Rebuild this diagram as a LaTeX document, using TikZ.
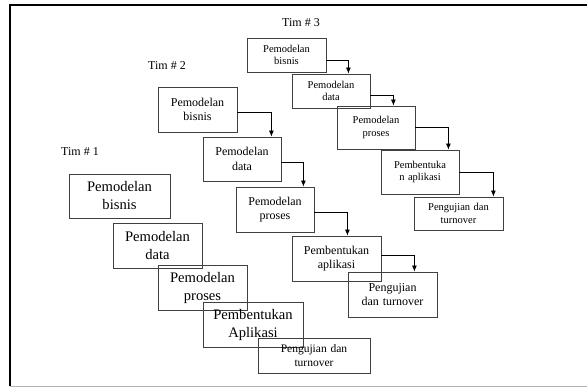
\documentclass[tikz,border=0pt]{standalone}
\usepackage{fontspec}
\setmainfont{Liberation Serif}
\usetikzlibrary{arrows,arrows.meta,shapes,calc,positioning}
\tikzstyle{phase} =[draw=black!75, line width=0.8pt, inner sep=1pt,
                    align=center, minimum width=78pt, minimum height=44pt]
\tikzstyle{flow}  =[-{Latex[length=6pt,width=5pt]}, line width=0.8pt]
\tikzstyle{team}  =[font=\fontsize{12}{14}\selectfont]

\begin{document}
\begin{tikzpicture}[x=1pt, y=-1pt]
\useasboundingbox (0,0) rectangle (587,387);
% frame
\draw [line width=2pt] (9.5,386) -- (9.5,5) -- (587,5);
\draw [black!30, line width=1.5pt] (9.5,386.5) -- (587,386.5);
% team labels
\node (tim3) [team] at (301,23) {Tim \# 3};
\node (tim2) [team] at (167,66) {Tim \# 2};
\node (tim1) [team] at (80,152) {Tim \# 1};
% Tim 3
\begin{scope}[every node/.style={phase, text width=70pt, font=\fontsize{10.5}{12.5}\selectfont}]
\node (t3a) [minimum width=79pt, minimum height=34pt] at (286.5,55) {Pemodelan\\bisnis};
\node (t3b) [minimum height=34pt] at (331,91) {Pemodelan\\data};
\node (t3c) [minimum height=43pt] at (376,127.5) {Pemodelan\\proses};
\node (t3d) at (420,172) {Pembentuka\\n aplikasi};
\node (t3e) [minimum width=89pt, minimum height=33pt] at (458.5,213.5) {Pengujian dan\\turnover};
\end{scope}
% Tim 2
\begin{scope}[every node/.style={phase, text width=72pt, minimum height=45pt, font=\fontsize{12}{14.5}\selectfont}]
\node (t2a) [minimum width=79pt] at (197.5,109.5) {Pemodelan\\bisnis};
\node (t2b) [minimum height=44pt] at (242,159) {Pemodelan\\data};
\node (t2c) at (275,209.5) {Pemodelan\\proses};
\node (t2d) [minimum width=89pt] at (336.5,258.5) {Pembentukan\\aplikasi};
\node (t2e) [minimum width=89pt] at (392.5,294.5) {Pengujian\\dan turnover};
\end{scope}
% Tim 1
\begin{scope}[every node/.style={phase, text width=82pt, minimum width=89pt, minimum height=45pt, font=\fontsize{14.6}{18}\selectfont}]
\node (t1a) [minimum width=101pt, minimum height=44pt] at (119.5,196) {Pemodelan\\bisnis};
\node (t1b) at (157.5,245.5) {Pemodelan\\data};
\node (t1c) at (202.5,287.5) {Pemodelan\\proses};
\node (t1d) [minimum width=100pt] at (253,324.5) {Pembentukan\\Aplikasi};
\node (t1e) [minimum width=112pt, minimum height=35pt, font=\fontsize{11.5}{14}\selectfont] at (314,355.5) {Pengujian dan\\turnover};
\end{scope}
% connectors
\draw [flow] ([yshift=-5pt]t3a.east) -| ([xshift=-22pt]t3b.north east);
\draw [flow] ([yshift=-4pt]t3b.east) -| ([xshift=-22pt]t3c.north east);
\draw [flow] (t3c.east) -| ([xshift=-11pt]t3d.north east);
\draw [flow] (t3d.east) -| ([xshift=-10pt]t3e.north east);
\draw [flow] ([yshift=-2.5pt]t2a.east) -| ([xshift=-10pt]t2b.north east);
\draw [flow] ([yshift=-3pt]t2b.east) -| ([xshift=-11pt]t2c.north east);
\draw [flow] ([yshift=-2.5pt]t2c.east) -| ([xshift=-34pt]t2d.north east);
\draw [flow] ([yshift=3.5pt]t2d.east) -| ([xshift=-23pt]t2e.north east);
\end{tikzpicture}
\end{document}
